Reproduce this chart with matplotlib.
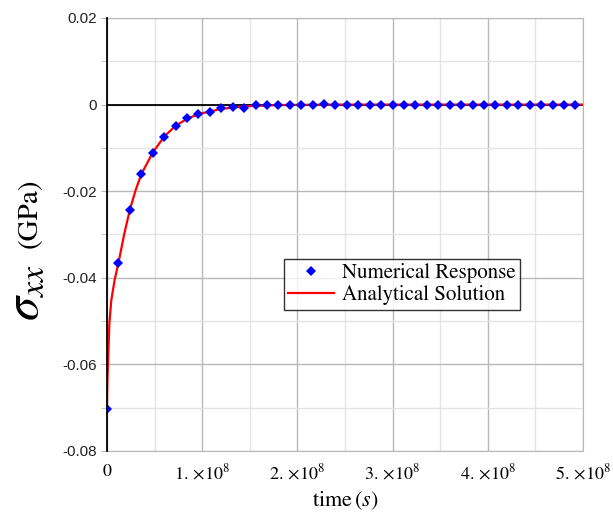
import matplotlib
matplotlib.use("Agg")
import matplotlib.pyplot as plt
from matplotlib.lines import Line2D
from matplotlib.ticker import MultipleLocator

# numerical response, one sample every 1.2e7 s
dt = 1.2e7
sigma_num = [-0.0703, -0.0366, -0.0243, -0.0161, -0.0112, -0.0074, -0.0049,
             -0.0031, -0.0022, -0.0017, -0.0008, -0.0006, -0.0008, -0.0002,
             -0.0001, -0.0001, -0.0002, -0.0002, -0.0002, 0.0002, 0.0,
             0.0, 0.0, 0.0, 0.0, 0.0, 0.0, 0.0, 0.0, 0.0, 0.0,
             0.0, 0.0, 0.0, 0.0, 0.0, 0.0, 0.0, 0.0, 0.0, 0.0, 0.0]
t_num = [i * dt for i in range(len(sigma_num))]

# analytical solution
t_ana = [0.0, 0.02e7, 0.05e7, 0.1e7, 0.25e7, 0.45e7, 0.8e7, 1.2e7, 1.8e7,
         2.4e7, 3.0e7, 3.6e7, 4.8e7, 6.0e7, 7.2e7, 8.4e7, 9.6e7, 1.2e8,
         1.44e8, 1.8e8, 2.4e8, 5.0e8]
sigma_ana = [-0.0703, -0.0665, -0.0635, -0.0600, -0.0505, -0.0452, -0.0405,
             -0.0366, -0.0300, -0.0243, -0.0198, -0.0161, -0.0111, -0.0074,
             -0.0049, -0.0033, -0.0022, -0.0010, -0.0004, -0.0001, 0.0, 0.0]

x_ticks = [0, 1e8, 2e8, 3e8, 4e8, 5e8]
x_labels = ["0"] + [r"$%d.\,\!\times\!10^{8}$" % k for k in range(1, 6)]
y_ticks = [0.02, 0, -0.02, -0.04, -0.06, -0.08]
y_labels = ["0.02", "0", "-0.02", "-0.04", "-0.06", "-0.08"]

plt.rcParams['mathtext.fontset'] = 'stix'

fig = plt.figure(figsize=(6.13, 5.19), dpi=100)
ax = fig.add_axes([107 / 613, 1 - 451 / 519, 476 / 613, 433 / 519])

ax.set_xlim(0, 5e8)
ax.set_ylim(-0.08, 0.02)

ax.xaxis.set_minor_locator(MultipleLocator(0.5e8))
ax.yaxis.set_minor_locator(MultipleLocator(0.01))
ax.grid(which='major', color='#b8b8b8', lw=1.0)
ax.grid(which='minor', color='#e4e4e4', lw=1.0)
ax.set_axisbelow(True)

ax.axhline(0, color='black', lw=1.3, zorder=2)

ax.plot(t_ana, sigma_ana, color='#ff0000', lw=1.6, zorder=3)
ax.plot(t_num, sigma_num, linestyle='None', marker='D', markersize=5,
        color='#0000ff', markeredgewidth=0, zorder=4)

for side in ['top', 'right', 'bottom']:
    ax.spines[side].set_color('#b8b8b8')
ax.spines['left'].set_color('black')
ax.spines['left'].set_linewidth(1.3)
ax.spines['left'].set_zorder(5)

ax.set_xticks(x_ticks)
ax.set_xticklabels(x_labels, fontsize=13, family='STIXGeneral')
ax.set_yticks(y_ticks)
ax.set_yticklabels(y_labels, fontsize=11, family='Liberation Sans',
                   color='#222222')
ax.tick_params(axis='x', which='both', length=0, pad=9)
ax.tick_params(axis='y', which='both', length=4, color='#b8b8b8', pad=3)

ax.set_xlabel(r"$\mathrm{time}\,(s)$", fontsize=16, labelpad=4)

# y label: big sigma_xx followed by (GPa), sharing one baseline
fig.text(37 / 613, 1 - 321 / 519, r"$\sigma_{xx}$", fontsize=35, rotation=90,
         rotation_mode='anchor', ha='left', va='baseline')
fig.text(37 / 613, 1 - 248 / 519, "(GPa)", fontsize=21, rotation=90,
         rotation_mode='anchor', ha='left', va='baseline',
         family='STIXGeneral')

handles = [Line2D([], [], linestyle='None', marker='D', markersize=5,
                  color='#0000ff', markeredgewidth=0),
           Line2D([], [], color='#ff0000', lw=1.6)]
leg = ax.legend(handles, ["Numerical Response", "Analytical Solution"],
                loc='upper left', bbox_to_anchor=(0.372, 0.443),
                prop={'family': 'STIXGeneral', 'size': 15},
                frameon=True, fancybox=False, borderpad=0.2, labelspacing=0.1,
                handlelength=2.2, handletextpad=0.4, borderaxespad=0)
leg.get_frame().set_edgecolor('black')
leg.get_frame().set_linewidth(1.0)

fig.savefig("out.png", dpi=100)
